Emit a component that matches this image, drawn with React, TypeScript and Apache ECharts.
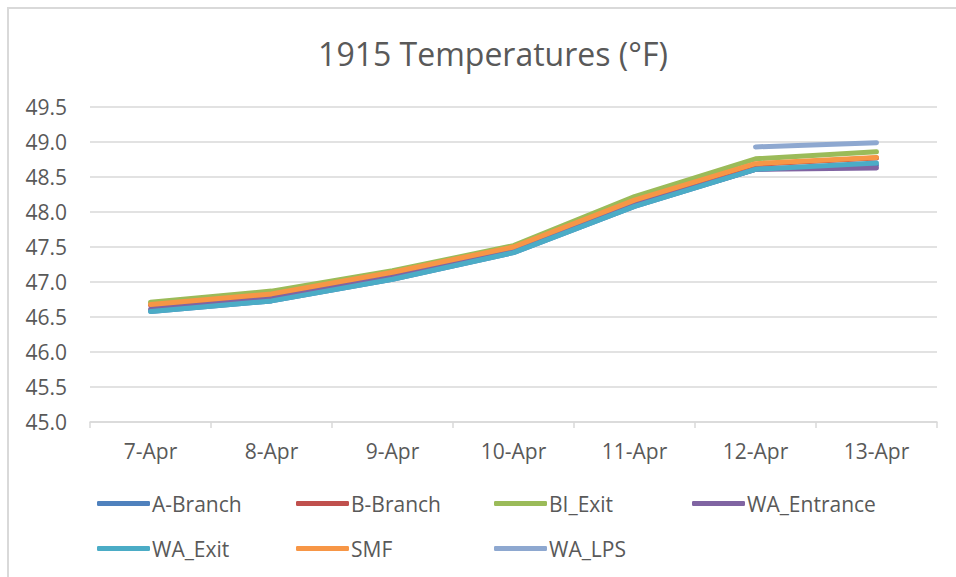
import React, { useEffect, useRef } from "react";
import * as echarts from "echarts";

const categories = ["7-Apr", "8-Apr", "9-Apr", "10-Apr", "11-Apr", "12-Apr", "13-Apr"];
const seriesNames = ["A-Branch", "B-Branch", "BI_Exit", "WA_Entrance", "WA_Exit", "SMF", "WA_LPS"];
const aBranch = [46.58, 46.73, 47.04, 47.42, 48.08, 48.61, 48.67];
const bBranch = [46.67, 46.82, 47.13, 47.49, 48.16, 48.68, 48.77];
const biExit = [46.71, 46.87, 47.16, 47.52, 48.22, 48.76, 48.86];
const waEntrance = [46.61, 46.76, 47.07, 47.44, 48.1, 48.61, 48.63];
const waExit = [46.58, 46.73, 47.04, 47.42, 48.08, 48.61, 48.7];
const smf = [46.68, 46.83, 47.14, 47.5, 48.17, 48.69, 48.78];
const waLps = [null, null, null, null, null, 48.93, 48.99];
const colors = ["#4F81BD", "#C0504D", "#9BBB59", "#8064A2", "#4BACC6", "#F79646", "#8EA8D0"];
const yTicks = { min: 45, max: 49.5, interval: 0.5 };

const FONT = "'Open Sans', sans-serif";

export default function App() {
  const ref = useRef<HTMLDivElement>(null);
  useEffect(() => {
    document.body.style.margin = "0";
    const chart = echarts.init(ref.current!, null, { renderer: "svg" });
    const allData = [aBranch, bBranch, biExit, waEntrance, waExit, smf, waLps];
    const legendPos = [
      [97, 493], [296, 493], [494, 493], [692, 493],
      [97, 538], [296, 538], [494, 538],
    ];
    chart.setOption({
      animation: false,
      backgroundColor: "#ffffff",
      color: colors,
      title: {
        text: "1915 Temperatures (°F)",
        left: 488,
        textAlign: "center",
        top: 32,
        textStyle: { fontFamily: FONT, fontSize: 32, fontWeight: "normal", color: "#595959" },
      },
      graphic: [
        {
          type: "rect",
          shape: { x: 8, y: 8, width: 1000, height: 1000 },
          style: { fill: "none", stroke: "#d9d9d9", lineWidth: 2 },
          silent: true,
        },
      ],
      legend: seriesNames.map((n, i) => ({
        data: [n],
        left: legendPos[i][0],
        top: legendPos[i][1],
        padding: 0,
        icon: "roundRect",
        itemWidth: 53,
        itemHeight: 5,
        textStyle: { fontFamily: FONT, fontSize: 21, color: "#595959", padding: [0, 0, 0, -3] },
        selectedMode: false,
      })),
      grid: { left: 90, right: 19, top: 107, bottom: 155, containLabel: false },
      xAxis: {
        type: "category",
        data: categories,
        boundaryGap: true,
        axisLine: { lineStyle: { color: "#d9d9d9", width: 1.5 } },
        axisTick: { show: true, length: 6, lineStyle: { color: "#d9d9d9", width: 1.5 } },
        axisLabel: { fontFamily: FONT, fontSize: 21, color: "#595959", margin: 18 },
      },
      yAxis: {
        type: "value",
        min: yTicks.min,
        max: yTicks.max,
        interval: yTicks.interval,
        axisLine: { show: false },
        axisTick: { show: false },
        splitLine: { lineStyle: { color: "#d9d9d9", width: 1.5 } },
        axisLabel: {
          fontFamily: FONT,
          fontSize: 21,
          color: "#595959",
          margin: 23,
          formatter: (v: number) => v.toFixed(1),
        },
      },
      series: seriesNames.map((n, i) => ({
        name: n,
        type: "line",
        data: allData[i],
        symbol: "none",
        connectNulls: false,
        lineStyle: { width: 5, color: colors[i], cap: "round", join: "round" },
        itemStyle: { color: colors[i] },
      })),
    });
    return () => chart.dispose();
  }, []);
  return <div ref={ref} style={{ width: 956, height: 577 }} />;
}
